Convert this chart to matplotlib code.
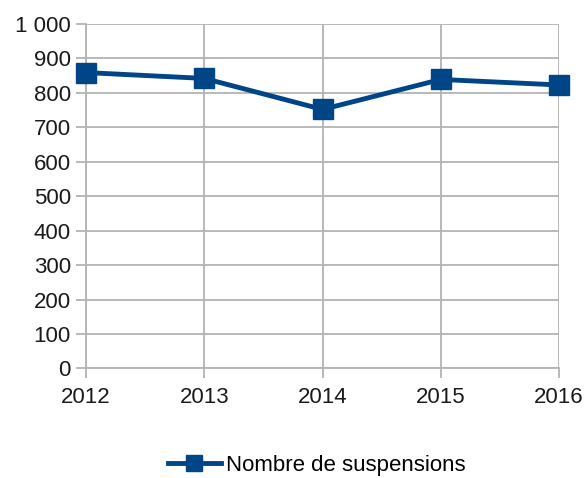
import matplotlib.pyplot as plt

years = ['2012', '2013', '2014', '2015', '2016']
suspensions = [859, 842, 752, 839, 823]
y_ticks = [0, 100, 200, 300, 400, 500, 600, 700, 800, 900, 1000]
y_labels = ['0', '100', '200', '300', '400', '500', '600', '700', '800', '900', '1 000']

plt.rcParams['font.family'] = ['Liberation Sans', 'DejaVu Sans']

fig = plt.figure(figsize=(5.86, 4.78), dpi=100)
ax = fig.add_axes([0.1468, 0.2291, 0.8072, 0.7207])

x = list(range(len(years)))
ax.plot(x, suspensions, color='#004586', linewidth=3.5, marker='s',
        markersize=14, label='Nombre de suspensions', zorder=3, clip_on=False)

ax.set_xlim(0, len(years) - 1)
ax.set_ylim(0, 1000)
ax.set_xticks(x)
ax.set_xticklabels(years)
ax.set_yticks(y_ticks)
ax.set_yticklabels(y_labels)

ax.grid(True, color='#b3b3b3', linewidth=1.3)
ax.set_axisbelow(True)
for side in ['top', 'right']:
    ax.spines[side].set_visible(False)
for side in ['left', 'bottom']:
    ax.spines[side].set_color('#b3b3b3')
    ax.spines[side].set_linewidth(1.3)

ax.tick_params(axis='both', colors='#b3b3b3', width=1.3, length=7,
               labelsize=16, labelcolor='#1a1a1a')
ax.tick_params(axis='y', pad=4)
ax.tick_params(axis='x', pad=6)

fig.legend(loc='center', bbox_to_anchor=(0.54, 0.027), frameon=False,
           fontsize=16, handlelength=2.4, handletextpad=0.2, markerscale=0.85)

fig.savefig('out.png', dpi=100)
